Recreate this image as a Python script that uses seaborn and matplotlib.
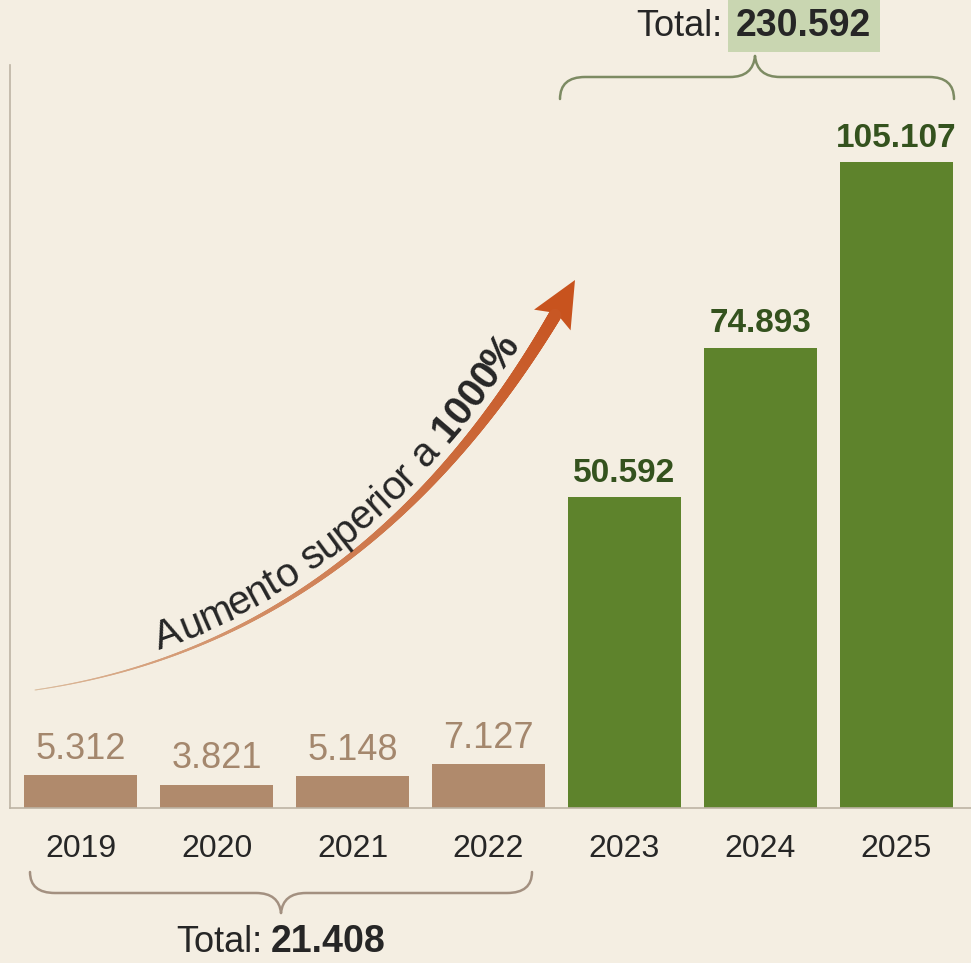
import numpy as np
import pandas as pd
import matplotlib
matplotlib.use("Agg")
import matplotlib.pyplot as plt
import seaborn as sns
from matplotlib.path import Path
from matplotlib.patches import PathPatch, Polygon
from matplotlib.collections import LineCollection
from matplotlib.colors import to_rgb

# data
years = ["2019", "2020", "2021", "2022", "2023", "2024", "2025"]
values = [5312, 3821, 5148, 7127, 50592, 74893, 105107]
period = ["antes", "antes", "antes", "antes", "depois", "depois", "depois"]
total_before = 21408
total_after = 230592
arrow_text = "Aumento superior a "
arrow_text_bold = "1000%"

# colours
bg = "#f4eee2"
brown = "#b08a6c"
brown_txt = "#a4876d"
green = "#5e832c"
green_txt = "#34521e"
dark = "#262626"


def fmt(v):
    return f"{v:,.0f}".replace(",", ".")


sns.set_theme(style="white")
plt.rcParams["font.family"] = ["Liberation Sans", "DejaVu Sans"]

W, H = 971, 963
fig = plt.figure(figsize=(W / 100, H / 100), dpi=100, facecolor=bg)
ax = fig.add_axes([10 / W, (H - 808) / H, (W - 10) / W, (808 - 65) / H])
ax.set_facecolor(bg)

df = pd.DataFrame({"year": years, "value": values, "period": period})
sns.barplot(data=df, x="year", y="value", hue="period",
            palette={"antes": brown, "depois": green}, dodge=False,
            width=0.83, saturation=1, legend=False, linewidth=0, ax=ax)

ax.set_xlim(-0.52, 6.55)
ax.set_ylim(0, 120900)
ax.set_yticks([])
ax.set_xlabel("")
ax.set_ylabel("")
ax.tick_params(axis="x", length=0, pad=19, labelsize=23, labelcolor=dark)
for s in ["top", "right"]:
    ax.spines[s].set_visible(False)
for s in ["left", "bottom"]:
    ax.spines[s].set_color("#bdb4a4")
    ax.spines[s].set_linewidth(1.2)

# value labels
for i, cont in enumerate(ax.containers):
    if i == 0:
        ax.bar_label(cont, fmt=fmt, padding=6, fontsize=26, color=brown_txt)
    else:
        ax.bar_label(cont, fmt=fmt, padding=6, fontsize=24,
                     fontweight="bold", color=green_txt)

# overlay in pixel coordinates (y downwards)
ov = fig.add_axes([0, 0, 1, 1], zorder=5)
ov.set_xlim(0, W)
ov.set_ylim(H, 0)
ov.axis("off")
ov.patch.set_alpha(0)


def brace(x0, x1, yend, yline, xtip, ytip, color):
    r = 25
    verts = [(x0, yend), (x0, yline), (x0 + r, yline), (xtip - r, yline),
             (xtip - 2, yline), (xtip, ytip),
             (xtip, ytip), (xtip + 2, yline), (xtip + r, yline),
             (x1 - r, yline), (x1, yline), (x1, yend)]
    codes = [Path.MOVETO, Path.CURVE3, Path.CURVE3, Path.LINETO,
             Path.CURVE3, Path.CURVE3,
             Path.MOVETO, Path.CURVE3, Path.CURVE3,
             Path.LINETO, Path.CURVE3, Path.CURVE3]
    ov.add_patch(PathPatch(Path(verts, codes), fc="none", ec=color, lw=1.8,
                           capstyle="round"))


brace(560, 954, 99, 77, 755, 56, "#7d8b63")
brace(30, 532, 872, 893, 281, 913, "#a39080")

# totals
ov.text(722, 26, "Total:", fontsize=26, color=dark, ha="right", va="center")
ov.text(736, 26, fmt(total_after), fontsize=27, fontweight="bold", color=dark,
        ha="left", va="center",
        bbox=dict(boxstyle="square,pad=0.22", fc="#c9d6b1", ec="none"))
ov.text(262, 942, "Total:", fontsize=26, color=dark, ha="right", va="center")
ov.text(271, 942, fmt(total_before), fontsize=27, fontweight="bold",
        color=dark, ha="left", va="center")

# growth arrow: quadratic bezier in pixel coordinates
P0 = np.array([35.0, 690.0])
P1 = np.array([379.0, 640.0])
P2 = np.array([575.0, 280.0])
tt = np.linspace(0, 1, 600)
pts = ((1 - tt) ** 2)[:, None] * P0 + (2 * tt * (1 - tt))[:, None] * P1 + (tt ** 2)[:, None] * P2
d = np.diff(pts, axis=0)
seg_len = np.hypot(d[:, 0], d[:, 1])
arc = np.concatenate([[0], np.cumsum(seg_len)])
L = arc[-1]
head_len = 46
body_end = np.searchsorted(arc, L - head_len + 5)

widths = 1.0 + 13.0 * (arc / L) ** 1.5
c0 = np.array(to_rgb("#dcc0a2"))
c1 = np.array(to_rgb("#c7521e"))
segs = [pts[i:i + 2] for i in range(body_end)]
cols = [c0 + (c1 - c0) * min(1, (arc[i] / L) ** 0.7) for i in range(body_end)]
lws = [widths[i] * 0.72 for i in range(body_end)]
ov.add_collection(LineCollection(segs, colors=cols, linewidths=lws,
                                 capstyle="round"))

u = (pts[-1] - pts[body_end]) / np.linalg.norm(pts[-1] - pts[body_end])
n = np.array([u[1], -u[0]])
base = P2 - head_len * u
ov.add_patch(Polygon([P2, base + 21 * n, base + 8 * u, base - 21 * n],
                     closed=True, fc="#c8531e", ec="none"))

# text along the arrow
renderer = fig.canvas.get_renderer()


def width_px(s, size, weight):
    t = ov.text(0, 0, s + "I", fontsize=size, fontweight=weight)
    w1 = t.get_window_extent(renderer).width
    t.remove()
    t = ov.text(0, 0, "I", fontsize=size, fontweight=weight)
    w2 = t.get_window_extent(renderer).width
    t.remove()
    return w1 - w2


def point_at(s):
    i = min(np.searchsorted(arc, s), len(pts) - 2)
    p = pts[i]
    tv = pts[i + 1] - pts[i]
    tv = tv / np.linalg.norm(tv)
    nv = np.array([tv[1], -tv[0]])
    return p, tv, nv, widths[i]


s_start = arc[np.searchsorted(pts[:, 0], 162)]
s_end = arc[np.searchsorted(pts[:, 0], 532)]
ref = 20
total_w = width_px(arrow_text, ref, "normal") + width_px(arrow_text_bold, ref, "bold")
fs = ref * (s_end - s_start) / total_w

chars = [(c, "normal") for c in arrow_text] + [(c, "bold") for c in arrow_text_bold]
reg_len = len(arrow_text)
for k, (c, wgt) in enumerate(chars):
    if k < reg_len:
        off = width_px(arrow_text[:k], fs, "normal")
    else:
        off = width_px(arrow_text, fs, "normal") + width_px(arrow_text_bold[:k - reg_len], fs, "bold")
    p, tv, nv, wd = point_at(s_start + off)
    q = p + nv * (wd / 2 + 9)
    ang = np.degrees(np.arctan2(-tv[1], tv[0]))
    ov.text(q[0], q[1], c, fontsize=fs, fontweight=wgt, color=dark,
            rotation=ang, rotation_mode="anchor", ha="left", va="baseline")

fig.savefig("out.png", dpi=100, facecolor=bg)
